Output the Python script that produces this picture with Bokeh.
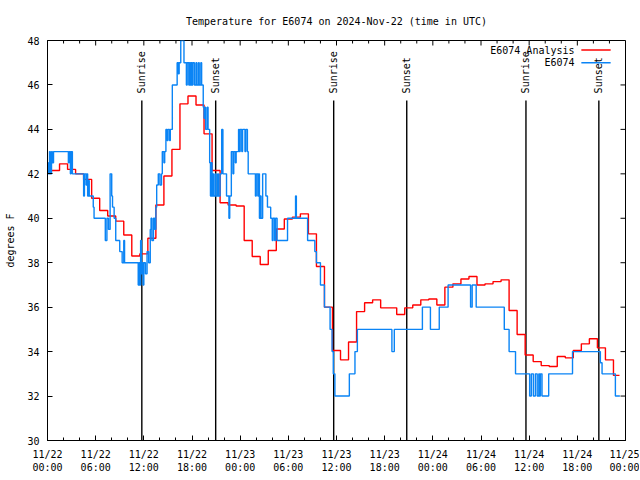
import numpy as np
from bokeh.plotting import figure
from bokeh.models import Range1d, FixedTicker, Label, ColumnDataSource
from bokeh.embed import file_html
from bokeh.resources import INLINE
from bokeh.core.properties import value

MONO = "DejaVu Sans Mono"

# ---------------- data (hours after 2024-11-22 00:00 UTC) ----------------
title_text = "Temperature for E6074 on 2024-Nov-22 (time in UTC)"
tick_hours = [0, 6, 12, 18, 24, 30, 36, 42, 48, 54, 60, 66, 72]
tick_labels = ["11/22\n00:00", "11/22\n06:00", "11/22\n12:00", "11/22\n18:00",
               "11/23\n00:00", "11/23\n06:00", "11/23\n12:00", "11/23\n18:00",
               "11/24\n00:00", "11/24\n06:00", "11/24\n12:00", "11/24\n18:00",
               "11/25\n00:00"]
minor_hours = list(range(0, 73, 2))
y_ticks = [30, 32, 34, 36, 38, 40, 42, 44, 46, 48]

# analysis (hourly, valid from hh:30)
analysis_hours = [0.0] + [k + 0.5 for k in range(71)] + [71.25]
analysis_vals = [42.15, 42.15, 42.45, 42.2, 42.0, 41.75, 40.9, 40.35, 40.1, 39.87,
                 39.25, 38.3, 38.4, 39.1, 40.6, 41.9, 43.1, 45.15, 45.5, 45.1,
                 43.8, 42.15, 40.7, 40.6, 40.55, 39.0, 38.28, 37.92, 38.55, 39.52,
                 39.97, 40.05, 40.2, 39.3, 37.83, 36.0, 34.05, 33.63, 34.43, 35.8,
                 36.2, 36.33, 35.97, 35.97, 35.67, 35.97, 36.1, 36.33, 36.37, 36.1,
                 36.9, 37.05, 37.27, 37.38, 37.0, 37.05, 37.15, 37.23, 35.85, 34.77,
                 33.85, 33.55, 33.37, 33.33, 33.78, 33.72, 34.05, 34.35, 34.58, 34.17,
                 33.63, 32.93]
analysis_vals = analysis_vals + [analysis_vals[-1]]

# station observations
obs_hours = [0.0, 0.1, 0.25, 0.35, 0.5, 0.6, 0.75,
             2.6, 2.7, 2.85, 2.95, 3.1,
             4.5, 4.6, 4.8, 4.9, 5.0, 5.1, 5.2,
             5.7, 5.8,
             7.2, 7.4, 7.6, 7.8, 8.0, 8.1, 8.3,
             8.5, 9.0, 9.3, 9.5, 9.6,
             11.3, 11.4, 11.5, 11.6, 11.7, 11.8, 11.9,
             12.0, 12.2, 12.4, 12.6, 12.8, 12.9, 13.0,
             13.2, 13.35, 13.5,
             13.6, 13.8, 14.0, 14.2, 14.3, 14.5, 14.6,
             14.75, 14.9, 15.0, 15.2, 15.3, 15.55,
             16.15, 16.3, 16.4, 16.6, 17.0, 17.3, 17.4,
             17.6, 17.7, 17.8, 17.9, 18.0, 18.1, 18.3,
             18.5, 18.6, 18.8, 18.9, 19.1, 19.2,
             19.4, 19.5, 19.6, 19.7, 19.9, 20.0,
             20.2, 20.3, 20.4, 20.5, 20.6, 20.7, 20.9,
             21.0, 21.2, 21.3, 21.5, 21.7, 21.85, 22.3,
             22.6, 22.7, 22.9, 23.1, 23.2, 23.4, 23.5,
             23.8, 23.9, 24.0, 24.2, 24.3, 24.6, 24.7, 24.9,
             25.0, 25.9, 26.0, 26.2, 26.3, 26.4, 26.5, 26.6,
             26.8, 27.2, 27.4, 27.8, 28.0, 28.1, 28.3, 28.4,
             28.6, 29.9, 30.9, 31.0, 32.4, 33.3, 33.5,
             34.0, 34.5, 35.2, 35.45, 35.6, 35.8,
             37.6, 38.3, 38.6, 42.9, 43.2, 46.7, 47.7,
             48.8, 49.9, 52.7, 52.9, 53.4, 56.9, 57.5,
             58.3, 60.06, 60.27, 60.52, 60.77, 61.0, 61.2,
             61.3, 61.4, 61.6, 62.43, 65.4, 68.87, 69.08,
             70.74, 71.3]
obs_vals = [42.5, 42, 43, 42, 43, 42.5, 43,
            42.5, 43, 42, 43, 42,
            41, 42, 41.5, 42, 41, 41.7, 41,
            40.5, 40,
            39, 40, 39.5, 42, 41, 40.5, 40,
            39, 38.5, 38, 39, 38,
            37, 38, 37, 39, 37.5, 38, 37,
            38, 37.5, 38.5, 38, 39.5, 40, 39,
            40, 39.5, 40.5,
            41.5, 42, 41.5, 42, 43, 42.5, 43,
            44, 43.5, 44, 43.5, 44, 46,
            47, 46.5, 47, 48, 47, 46, 47,
            46, 47, 46, 47, 46, 47, 46,
            47, 46, 47, 46, 47, 46,
            45, 44.5, 45, 44, 45, 44,
            42.5, 41, 42.5, 41, 42, 41, 42,
            41, 42, 41, 42, 44, 42, 41,
            40, 41, 43, 42, 43, 42.5, 43,
            44, 43, 44, 43, 44, 43, 44, 43,
            42, 41, 42, 41, 42, 40, 41, 40,
            42, 41, 40.5, 40, 39, 40, 39, 40,
            39, 40, 41, 40, 39, 38.5, 38,
            37, 36, 35, 34, 33, 32,
            33, 34, 35, 34, 35, 36, 35,
            36, 37, 36, 37, 36, 35, 34,
            33, 32, 33, 32, 33, 32, 33,
            32, 33, 32, 33, 34, 33.5, 33,
            32, 32]

sun_hours = [11.75, 20.95, 35.65, 44.75, 59.6, 68.68]
sun_labels = ["Sunrise", "Sunset", "Sunrise", "Sunset", "Sunrise", "Sunset"]

# ---------------- figure ----------------
X0, X1, Y0, Y1 = 0, 72, 30, 48
FW, FH = 578, 400
p = figure(frame_width=FW, frame_height=FH,
           x_range=Range1d(X0, X1), y_range=Range1d(Y0, Y1),
           output_backend="svg", toolbar_location=None,
           min_border_left=47, min_border_right=14,
           min_border_top=40, min_border_bottom=39,
           title=title_text)
p.background_fill_color = "white"
p.border_fill_color = "white"
p.outline_line_color = "black"
p.outline_line_width = 1
p.xgrid.visible = False
p.ygrid.visible = False

p.title.align = "center"
p.title.vertical_align = "middle"
p.title.text_font = MONO
p.title.text_font_size = "10px"
p.title.text_font_style = "normal"
p.title.text_color = "black"
p.title.standoff = 25

px_x = (X1 - X0) / FW
px_y = (Y1 - Y0) / FH

xt = FixedTicker(ticks=tick_hours, minor_ticks=minor_hours)
yt = FixedTicker(ticks=y_ticks, minor_ticks=[])

MAJ, MIN = 5, 3  # tick lengths in px (pointing inward)

for ax in (p.xaxis[0], p.yaxis[0]):
    ax.axis_line_color = "black"
    ax.major_tick_in = MAJ
    ax.major_tick_out = 0
    ax.minor_tick_in = MIN
    ax.minor_tick_out = 0
    ax.major_tick_line_color = "black"
    ax.minor_tick_line_color = "black"
    ax.major_label_text_font = MONO
    ax.major_label_text_font_size = "10px"
    ax.major_label_text_color = "black"

xa = p.xaxis[0]
xa.ticker = xt
xa.major_label_overrides = {h: l for h, l in zip(tick_hours, tick_labels)}
xa.major_label_standoff = 8

ya = p.yaxis[0]
ya.ticker = yt
ya.major_label_standoff = 8
ya.axis_label = "degrees F"
ya.axis_label_text_font = MONO
ya.axis_label_text_font_size = "10px"
ya.axis_label_text_font_style = "normal"
ya.axis_label_text_color = "black"
ya.axis_label_standoff = 8

# mirrored ticks on the top and right edges (from the same tick lists)
top_major = [h for h in tick_hours]
top_minor = [h for h in minor_hours if h not in tick_hours]
p.segment(x0=top_major, y0=[Y1] * len(top_major), x1=top_major,
          y1=[Y1 - MAJ * px_y] * len(top_major), line_color="black", line_width=1)
p.segment(x0=top_minor, y0=[Y1] * len(top_minor), x1=top_minor,
          y1=[Y1 - MIN * px_y] * len(top_minor), line_color="black", line_width=1)
p.segment(x0=[X1] * len(y_ticks), y0=y_ticks, x1=[X1 - MAJ * px_x] * len(y_ticks),
          y1=y_ticks, line_color="black", line_width=1)

# sunrise / sunset markers
sun_src = ColumnDataSource(dict(x=sun_hours, y0=[Y0] * len(sun_hours),
                                y1=[45.3] * len(sun_hours),
                                yt=[45.62] * len(sun_hours), t=sun_labels))
p.segment(x0="x", y0="y0", x1="x", y1="y1", source=sun_src,
          line_color="black", line_width=1.4)
p.text(x="x", y="yt", text="t", source=sun_src, angle=np.pi / 2,
       text_align="left", text_baseline="middle",
       text_font=value(MONO), text_font_size="10px", text_color="black")

# series
RED, BLUE = "#ff0000", "#0a84f5"
p.step(analysis_hours, analysis_vals, mode="after", line_color=RED, line_width=1.4)
p.step(obs_hours, obs_vals, mode="after", line_color=BLUE, line_width=1.4)

# legend (label left of sample, like the original)
leg_text_x = 65.65
leg_line = (66.5, 70.15)
for yv, txt, col in [(47.57, "E6074 Analysis", RED), (47.0, "E6074", BLUE)]:
    p.add_layout(Label(x=leg_text_x, y=yv, text=txt, text_align="right",
                       text_baseline="middle", text_font=MONO,
                       text_font_size="10px", text_color="black"))
    p.segment(x0=[leg_line[0]], y0=[yv], x1=[leg_line[1]], y1=[yv],
              line_color=col, line_width=1.4)

open("out.html", "w").write(file_html(p, INLINE))
